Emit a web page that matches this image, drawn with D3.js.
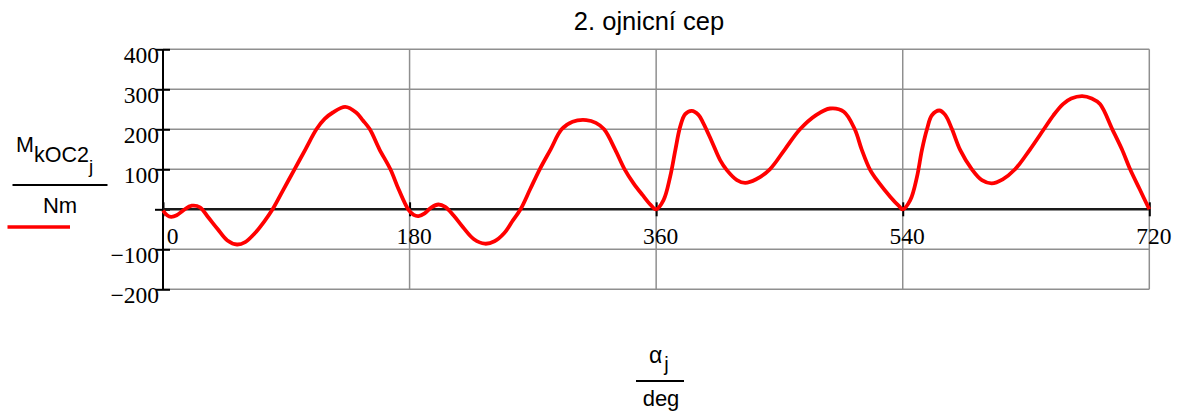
<!DOCTYPE html>
<html>
<head>
<meta charset="utf-8">
<script src="https://cdn.jsdelivr.net/npm/d3@7"></script>
<style>
  body { margin: 0; background: #fff; }
  .sans { font-family: "Liberation Sans", Arial, sans-serif; }
</style>
</head>
<body>
<div id="plot"></div>
<script>
// crank angle [deg] and torque M_kOC2 [Nm]
var angles = [0, 3, 6, 10, 15, 21, 27, 33, 40, 47, 54, 60, 67, 74, 80, 88, 96, 104, 112, 118, 124, 133, 141, 146, 151, 158, 166, 172, 179,
    183, 186.5, 191, 196, 201, 206, 212, 219, 227, 235, 242, 249, 255, 261, 268, 275, 283, 291, 299, 309, 316, 322, 330, 337, 343.5, 350, 356, 360,
    365.4, 370.2, 374, 377.5, 381.2, 386, 390.9, 394.5, 400.7, 406.7, 411.6, 419, 425, 433, 443, 454, 465, 477, 487, 497, 505, 510, 516, 522, 531, 537, 540,
    545.5, 550.4, 554, 557.7, 561.3, 566.7, 571, 576, 582, 590.5, 597.8, 605, 613, 622, 633, 643, 650, 657, 663, 671, 678, 684, 693, 700, 706, 713, 720];
var torque = [-3, -15, -19, -15, -2, 9, 5, -20, -50, -78, -88, -82, -60, -30, 0, 50, 100, 150, 200, 226, 242, 256, 242, 222, 200, 150, 100, 50, 0,
    -14, -17, -10, 5, 12, 6, -15, -45, -75, -86, -80, -60, -30, 0, 50, 100, 150, 200, 219, 223, 216, 200, 150, 100, 65, 36, 11, 0,
    23, 81, 148, 206, 238, 246, 236, 215, 169, 123, 98, 73, 66, 75, 100, 150, 200, 236, 252, 244, 200, 150, 100, 69, 31, 9, 0,
    23, 81, 148, 200, 235, 247, 236, 200, 148, 100, 73, 65, 75, 100, 150, 200, 235, 263, 277, 283, 277, 263, 200, 150, 100, 50, 0];

var xTicks = [0, 180, 360, 540, 720];
var yTicks = [400, 300, 200, 100, 0, -100, -200];
var title = "2. ojnicní cep";

var W = 1181, H = 416;
var serif = "'Liberation Serif', 'Times New Roman', serif";
var svg = d3.select("#plot").append("svg").attr("width", W).attr("height", H);

var x = d3.scaleLinear().domain([0, 720]).range([163, 1149.3]);
var y = d3.scaleLinear().domain([-200, 400]).range([289.3, 49.3]);

// grid
svg.append("g").selectAll("line").data(yTicks.filter(function (d) { return d !== 0; }))
    .enter().append("line")
    .attr("x1", x(0)).attr("x2", x(720))
    .attr("y1", function (d) { return y(d); }).attr("y2", function (d) { return y(d); })
    .attr("stroke", "#8f8f8f").attr("stroke-width", 1.5);
svg.append("g").selectAll("line").data(xTicks.slice(1))
    .enter().append("line")
    .attr("x1", function (d) { return x(d); }).attr("x2", function (d) { return x(d); })
    .attr("y1", y(400)).attr("y2", y(-200))
    .attr("stroke", "#8f8f8f").attr("stroke-width", 1.5);

// y axis
var yAxis = d3.axisLeft(y).tickValues(yTicks).tickSize(7)
    .tickFormat(function (d) { return d === 0 ? "" : (d < 0 ? "\u2212" + (-d) : String(d)); });
var yAxisDraw = svg.append("g").attr("transform", "translate(" + x(0) + ",0)").call(yAxis);
yAxisDraw.select(".domain").remove();
yAxisDraw.selectAll(".tick line").attr("x1", 7).attr("x2", function (d) { return d === 0 ? -8 : -7; })
    .attr("stroke", "#000").attr("stroke-width", 2);
yAxisDraw.selectAll(".tick text").attr("x", -4).attr("dy", null).attr("y", 13).attr("fill", "#000")
    .style("font-family", serif).style("font-size", "23.5px");
svg.append("line").attr("x1", x(0)).attr("x2", x(0)).attr("y1", y(400)).attr("y2", y(-200))
    .attr("stroke", "#000").attr("stroke-width", 2);

// x axis at zero
var xAxis = d3.axisBottom(x).tickValues(xTicks).tickSize(7);
var xAxisDraw = svg.append("g").attr("transform", "translate(0," + y(0) + ")").call(xAxis);
xAxisDraw.select(".domain").remove();
xAxisDraw.selectAll(".tick line").attr("y1", -7).attr("y2", 7).attr("stroke", "#000").attr("stroke-width", 2);
xAxisDraw.selectAll(".tick text").attr("dy", null).attr("y", 35).attr("fill", "#000")
    .attr("dx", function (d) { return d === 0 ? 9 : 4; })
    .style("font-family", serif).style("font-size", "23.5px");
svg.append("line").attr("x1", x(0)).attr("x2", x(720)).attr("y1", y(0)).attr("y2", y(0))
    .attr("stroke", "#1a1a1a").attr("stroke-width", 2.5);

// curve
var plotLine = d3.line()
    .curve(d3.curveCatmullRom.alpha(0.5))
    .x(function (d, i) { return x(angles[i]); })
    .y(function (d) { return y(d); });
svg.append("path").datum(torque)
    .attr("d", plotLine)
    .attr("fill", "none").attr("stroke", "#ff0000").attr("stroke-width", 3.8)
    .attr("stroke-linejoin", "round");

// title
svg.append("text").attr("class", "sans").attr("x", 649).attr("y", 29.5)
    .attr("text-anchor", "middle").attr("font-size", 25.5).text(title);

// y label as fraction with legend line
var yl = svg.append("text").attr("class", "sans").attr("x", 16).attr("y", 152).attr("font-size", 21.5);
yl.append("tspan").text("M");
yl.append("tspan").attr("dy", 10).text("kOC2");
yl.append("tspan").attr("dy", 11).attr("font-size", 19).text("j");
svg.append("line").attr("x1", 12.5).attr("x2", 107.5).attr("y1", 185).attr("y2", 185)
    .attr("stroke", "#000").attr("stroke-width", 2);
svg.append("text").attr("class", "sans").attr("x", 60).attr("y", 213)
    .attr("text-anchor", "middle").attr("font-size", 22).text("Nm");
svg.append("line").attr("x1", 7.5).attr("x2", 70).attr("y1", 227).attr("y2", 227)
    .attr("stroke", "#ff0000").attr("stroke-width", 3.5);

// x label as fraction
var xl = svg.append("text").attr("class", "sans").attr("x", 649).attr("y", 363).attr("font-size", 23);
xl.append("tspan").text("\u03b1");
xl.append("tspan").attr("dx", 2).attr("dy", 8).attr("font-size", 20).text("j");
svg.append("line").attr("x1", 636).attr("x2", 684).attr("y1", 381).attr("y2", 381)
    .attr("stroke", "#000").attr("stroke-width", 2);
svg.append("text").attr("class", "sans").attr("x", 661).attr("y", 406)
    .attr("text-anchor", "middle").attr("font-size", 22).text("deg");
</script>
</body>
</html>
